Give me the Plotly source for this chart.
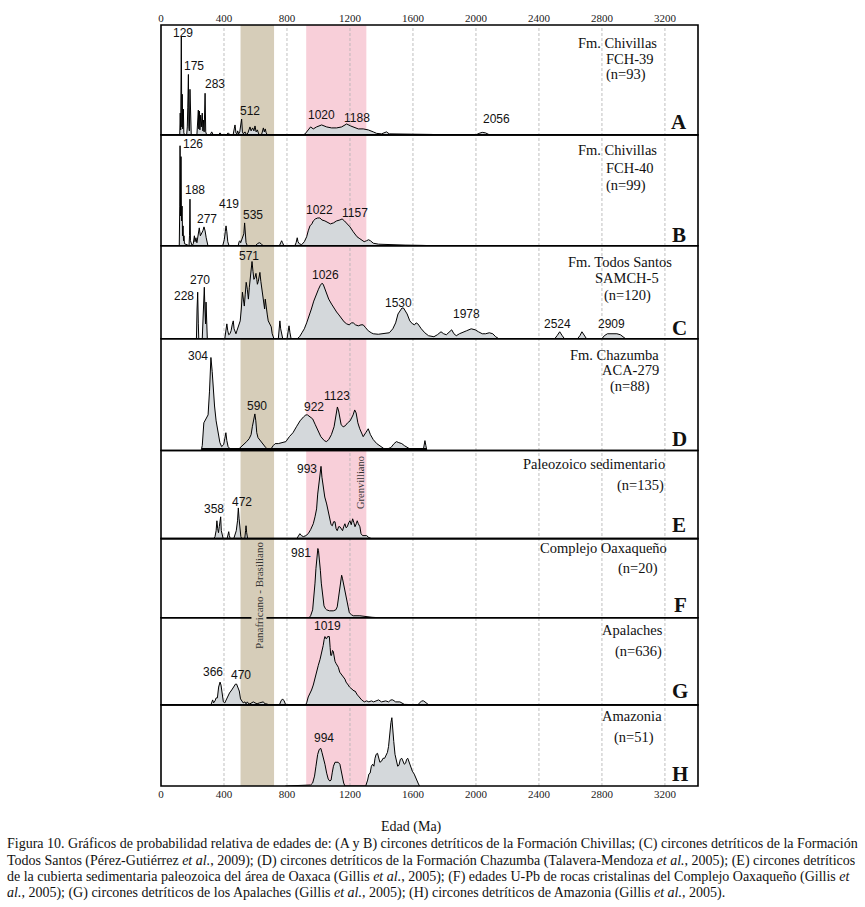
import plotly.graph_objects as go

# ---------------- DATA ----------------
# Relative probability curves: (age Ma, relative probability)
fch39 = [(100,0),(119,0),(122,22),(125,5),(129,99),(132,8),(135,41),(138,6),(142,26),(145,2),(150,0),
 (163,0),(167,8),(170,28),(174,61),(177,8),(180,4),(184,46),(188,4),(192,0),
 (228,0),(232,12),(237,25),(240,6),(244,24),(247,5),(252,20),(256,8),(262,22),(266,4),(270,15),(274,3),(280,42),(284,3),(290,0),
 (312,0),(322,3),(332,0),(365,0),(375,2),(385,0),(415,0),(427,2),(439,0),
 (458,0),(465,6),(470,10),(476,2),(482,1),(487,4),(493,1),(500,3),(505,8),(512,16),(517,3),(523,1),(533,3),(543,0),(552,2),
 (565,8),(572,4),(582,7),(590,4),(597,9),(604,3),(612,5),(620,1),(630,0),(640,1),(650,7),(656,3),(662,6),(668,2),(675,0),
 (905,0),(915,1),(935,5),(950,8),(967,6),(988,8),(1020,10),(1052,8),(1083,7),(1115,7),(1147,8),(1179,11),(1204,9),
 (1232,7),(1253,6),(1284,6),(1316,5),(1348,3),(1369,1.5),(1400,1),(1420,2.5),(1432,3),(1449,1),(1480,1),(1550,1),
 (1650,0.8),(1720,0.4),(1760,0),(2000,0),(2020,1.5),(2040,2.5),(2060,2),(2080,0.5),(2100,0)]

fch40 = [(100,0),(116,0),(119,40),(121,101),(124,30),(127,90),(130,25),(134,40),(137,10),(140,20),(143,5),(146,10),(149,2),
 (178,0),(181,10),(184,47),(187,5),(190,3),(198,0),
 (205,2),(212,10),(216,4),(222,8),(228,3),(236,12),(243,18),(250,10),(258,12),(266,15),(273,19),(280,15),(287,8),(292,2),(298,0),
 (392,0),(402,6),(408,14),(413,20),(418,14),(424,4),(432,0),
 (490,0),(496,4),(501,5),(506,3),(512,6),(520,8),(526,12),(531,23),(535,9),(540,3),(548,0),
 (600,0),(612,2),(624,3),(636,2),(648,0),(752,0),(760,3),(766,5),(772,3),(780,0),
 (850,0),(858,3),(865,8),(870,4),(878,2),(893,1),(910,4),(925,9),(935,15),(946,20),(958,22),(967,25),(980,27),(995,28),
 (1009,28),(1022,26),(1041,25),(1060,23),(1076,22),(1095,23),(1115,25),(1136,26),(1150,27),(1165,25),(1179,23),(1200,19),
 (1221,14),(1245,9),(1263,7),(1290,4),(1305,5),(1318,6),(1330,5),(1348,2.5),(1382,1.5),(1450,1),(1550,0.6),(1660,0.3),(1720,0)]

samch5 = [(210,0),(225,0),(229,30),(233,47),(237,15),(240,0),(262,0),(267,20),(272,40),(275,52),(279,30),(283,15),(286,37),(290,10),(294,0),
 (405,0),(412,8),(418,15),(424,8),(430,4),(438,5),(445,8),(452,14),(459,18),(464,10),(470,6),(476,5),(482,8),(490,12),(497,15),
 (503,18),(510,30),(517,47),(523,40),(529,33),(535,45),(541,57),(548,50),(555,40),(561,52),(567,60),(573,72),(578,78),(584,68),
 (590,60),(597,62),(603,66),(608,60),(612,55),(618,58),(624,63),(628,67),(634,58),(641,50),(647,40),(654,35),(658,30),(662,40),
 (668,30),(675,24),(681,18),(688,15),(694,14),(700,12),(706,5),(712,2),(717,0),
 (745,0),(750,8),(755,18),(760,10),(766,3),(773,0),(800,0),(806,6),(813,13),(819,6),(826,0),
 (865,0),(880,2),(895,6),(910,10),(925,16),(940,22),(955,30),(970,38),(985,45),(1000,50),(1012,54),(1022,56),(1030,55),
 (1040,50),(1052,45),(1065,40),(1083,35),(1100,30),(1115,27),(1130,24),(1147,20),(1163,17),(1179,15),(1195,14),(1210,16),
 (1221,16),(1235,14),(1253,13),(1270,14),(1284,14),(1300,11),(1316,8),(1335,6),(1348,5),(1380,4.5),(1410,5),(1432,5),
 (1450,6),(1472,10),(1490,16),(1505,25),(1517,28),(1530,31),(1540,31),(1552,28),(1563,25),(1580,18),(1597,15),(1610,14),
 (1620,16),(1631,15),(1642,12),(1653,10),(1675,6),(1699,3),(1733,2),(1755,4),(1778,7),(1795,5),(1812,4),(1830,7),(1846,9),
 (1860,5),(1875,3),(1895,5),(1914,6),(1940,8),(1970,10),(1995,9),(2016,7),(2040,5),(2061,5),(2085,6),(2107,5),(2125,2),(2145,0),
 (2500,0),(2515,3),(2532,7),(2548,3),(2562,0),(2645,0),(2660,3),(2673,7),(2688,3),(2702,0),
 (2800,0),(2815,3),(2835,5),(2855,5),(2876,5),(2895,5),(2917,4),(2935,2),(2950,0)]

aca279 = [(255,0),(262,5),(272,28),(283,32),(292,34),(299,36),(308,60),(317,94),(325,80),(333,55),(340,45),(350,30),(362,20),
 (374,8),(385,4),(398,6),(405,12),(412,18),(418,10),(426,4),(442,1),(470,0),(490,1),(510,4),(528,6),(544,9),(560,12),(572,16),
 (580,24),(588,33),(596,37),(602,30),(608,18),(616,13),(630,10),(646,7),(665,3),(685,0),(700,2),(713,5),(725,7),(745,7),
 (770,8),(793,9),(815,14),(838,18),(860,24),(883,30),(905,34),(920,36),(930,36),(945,34),(963,32),(980,26),(997,20),
 (1015,14),(1037,10),(1050,9),(1065,11),(1082,16),(1099,24),(1110,35),(1120,44),(1128,40),(1136,30),(1144,26),(1157,24),
 (1170,25),(1185,28),(1201,30),(1220,36),(1230,41),(1239,38),(1250,28),(1262,22),(1275,16),(1284,14),(1300,18),(1316,22),
 (1330,16),(1348,11),(1370,7),(1393,4),(1415,2),(1443,2),(1460,3),(1480,7),(1495,9),(1510,8),(1529,7),(1545,5),(1563,3),
 (1580,1),(1597,0),(1665,0),(1670,5),(1676,10),(1682,5),(1688,0)]

paleozoico = [(335,0),(343,2),(350,8),(355,18),(360,10),(365,6),(370,12),(375,18),(379,22),(383,8),(389,2),(395,0),
 (420,0),(426,4),(430,7),(434,3),(440,0),(462,0),(470,4),(478,8),(486,18),(491,31),(496,20),(501,8),(507,2),(512,0),
 (532,0),(537,8),(540,13),(544,6),(550,0),
 (862,0),(872,3),(882,5),(892,3),(904,2),(920,3),(935,5),(950,9),(967,15),(978,22),(988,30),(995,45),(1005,60),(1012,70),
 (1016,73),(1022,62),(1030,50),(1040,42),(1052,35),(1062,27),(1073,20),(1080,14),(1088,13),(1096,17),(1105,17),(1112,10),
 (1119,8),(1128,12),(1136,12),(1145,9),(1153,8),(1160,12),(1168,15),(1175,11),(1183,12),(1192,16),(1200,18),(1208,14),
 (1217,20),(1225,16),(1232,12),(1240,15),(1246,18),(1253,15),(1263,12),(1270,5),(1280,3),(1306,3),(1320,1),(1337,0)]

oaxaqueno = [(940,0),(950,2),(963,8),(970,18),(978,35),(984,50),(990,62),(996,70),(1000,68),(1005,62),(1012,48),(1018,35),
 (1025,22),(1035,12),(1045,9),(1052,8),(1070,7),(1094,7),(1110,8),(1119,11),(1127,20),(1136,32),(1142,40),(1147,43),
 (1152,40),(1158,35),(1165,28),(1172,22),(1178,18),(1183,15),(1190,8),(1196,5),(1210,3),(1221,2),(1263,2),(1306,1),
 (1340,0.5),(1390,0)]

apalaches = [(317,0),(322,4),(328,5),(334,2),(343,4),(350,7),(358,7),(366,18),(375,23),(381,20),(385,14),(390,5),(396,3),
 (405,2),(421,8),(435,12),(449,15),(462,18),(473,21),(480,21),(488,18),(497,14),(505,6),(512,4),(522,2),(533,3),(540,1),
 (548,3),(557,1),(565,1),(575,2),(586,3),(597,2),(610,1),(625,2),(640,3),(650,3),(660,1),(671,1),(685,0),
 (752,0),(762,4),(772,6),(782,4),(792,0),
 (918,0),(925,2),(935,8),(945,11),(956,15),(967,20),(978,28),(988,34),(999,40),(1010,46),(1020,52),(1030,60),(1036,66),
 (1041,69),(1047,67),(1052,67),(1058,69),(1064,69),(1069,69),(1074,58),(1078,50),(1083,50),(1089,55),(1094,54),(1100,47),
 (1105,44),(1111,42),(1118,40),(1126,38),(1135,33),(1140,32),(1147,30),(1155,29),(1161,27),(1168,26),(1175,23),(1182,22),
 (1189,20),(1197,18),(1204,17),(1210,16),(1220,15),(1226,14),(1232,14),(1240,11),(1247,10),(1253,9),(1262,7),(1274,5),
 (1291,3),(1306,4),(1320,3),(1336,4),(1350,3),(1365,4),(1382,5),(1400,3),(1416,4),(1427,4),(1445,3),(1460,5),(1472,5),
 (1490,3),(1517,3),(1530,1.5),(1545,0.5),(1630,0),(1645,2),(1655,4),(1668,4),(1682,2),(1700,0)]

amazonia = [(790,0),(850,0.5),(900,0.8),(950,1),(963,3),(975,10),(984,20),(995,32),(1005,37),(1015,38),(1022,34),(1032,28),
 (1041,22),(1052,13),(1062,7),(1072,5),(1080,6),(1088,14),(1095,20),(1105,24),(1115,24),(1125,24),(1136,22),(1145,14),
 (1151,8),(1160,3),(1168,0),
 (1300,0),(1312,6),(1320,12),(1328,13),(1336,20),(1344,22),(1352,20),(1359,28),(1366,32),(1375,33),(1383,26),(1390,24),
 (1400,25),(1410,28),(1420,28),(1430,32),(1438,34),(1445,40),(1452,55),(1460,64),(1466,69),(1472,60),(1478,45),(1486,32),
 (1495,24),(1503,20),(1511,21),(1520,27),(1529,28),(1537,25),(1545,22),(1553,23),(1560,27),(1567,28),(1575,24),(1585,18),
 (1596,15),(1608,12),(1617,8),(1626,5),(1635,2),(1642,0)]

series = [fch39, fch40, samch5, aca279, paleozoico, oaxaqueno, apalaches, amazonia]

# Peak age labels per panel
peaks_text = [
    ["129", "175", "283", "512", "1020", "1188", "2056"],
    ["126", "188", "277", "419", "535", "1022", "1157"],
    ["228", "270", "571", "1026", "1530", "1978", "2524", "2909"],
    ["304", "590", "922", "1123"],
    ["358", "472", "993"],
    ["981"],
    ["366", "470", "1019"],
    ["994"],
]

panel_titles = [
    ["Fm. Chivillas", "FCH-39", "(n=93)"],
    ["Fm. Chivillas", "FCH-40", "(n=99)"],
    ["Fm. Todos Santos", "SAMCH-5", "(n=120)"],
    ["Fm. Chazumba", "ACA-279", "(n=88)"],
    ["Paleozoico sedimentario", "(n=135)"],
    ["Complejo Oaxaqueño", "(n=20)"],
    ["Apalaches", "(n=636)"],
    ["Amazonia", "(n=51)"],
]
panel_letters = ["A", "B", "C", "D", "E", "F", "G", "H"]

tick_values = [0, 400, 800, 1200, 1600, 2000, 2400, 2800, 3200]
panafricano_band = (505, 718)
grenvilliano_band = (922, 1304)
chazumba_base = (260, 1688)

caption_lines = [
    "Figura 10. Gráficos de probabilidad relativa de edades de: (A y B) circones detríticos de la Formación Chivillas; (C) circones detríticos de la Formación",
    "Todos Santos (Pérez-Gutiérrez <i>et al.</i>, 2009); (D) circones detríticos de la Formación Chazumba (Talavera-Mendoza <i>et al.</i>, 2005); (E) circones detríticos",
    "de la cubierta sedimentaria paleozoica del área de Oaxaca (Gillis <i>et al.</i>, 2005); (F) edades U-Pb de rocas cristalinas del Complejo Oaxaqueño (Gillis <i>et</i>",
    "<i>al.</i>, 2005); (G) circones detríticos de los Apalaches (Gillis <i>et al.</i>, 2005); (H) circones detríticos de Amazonia (Gillis <i>et al.</i>, 2005).",
]

# ---------------- LAYOUT (pixel geometry) ----------------
W, H = 865, 907
PL, PR, PT, PB = 161, 698, 17, 786
edges = [17, 128, 240, 334, 447, 536, 616, 704, 786]
XMAX = 3410

def pxx(x):
    return (x - PL) / (PR - PL)

def pxy(y):
    return (PB - y) / (PB - PT)

peak_pos = [
    [(142, 25), (212, 58), (343, 77), (565, 104), (1022, 108), (1247, 111), (2128, 112)],
    [(206, 137), (214, 184), (295, 213), (434, 198), (583, 209), (1008, 204), (1233, 207)],
    [(145, 291), (247, 275), (560, 250), (1047, 270), (1506, 298), (1941, 309), (2518, 319), (2862, 319)],
    [(236, 351), (612, 402), (969, 403), (1118, 392)],
    [(335, 506), (513, 499), (926, 466)],
    [(892, 551)],
    [(330, 671), (507, 674), (1056, 624)],
    [(1033, 737)],
]
title_pos = [
    [(617, 35), (630, 51), (626, 67)],
    [(617, 143), (630, 161), (626, 179)],
    [(620, 256), (627, 273), (627, 290)],
    [(614, 350), (630, 366), (630, 382)],
    [(594, 461), (640, 482)],
    [(603, 545), (638, 566)],
    [(632, 628), (638, 650)],
    [(632, 715), (634, 737)],
]
letter_pos = [(679, 115), (679, 229), (679, 323), (679, 435), (679, 522), (680, 603), (680, 690), (680, 774)]

SERIF = "Liberation Serif, Times New Roman, serif"
SANS = "Liberation Sans, Arial, sans-serif"

fig = go.Figure()
layout_axes = {}
for i, data in enumerate(series):
    top, bot = edges[i], edges[i + 1]
    yname = "y" if i == 0 else f"y{i+1}"
    xname = "x2" if i == 0 else "x"
    ages = [p[0] for p in data]
    probs = [p[1] for p in data]
    fig.add_trace(go.Scatter(x=ages, y=probs, mode="lines",
                             line=dict(color="black", width=1),
                             fill="tozeroy", fillcolor="#d4d8db",
                             xaxis=xname, yaxis=yname, hoverinfo="skip"))
    key = "yaxis" if i == 0 else f"yaxis{i+1}"
    layout_axes[key] = dict(domain=[pxy(bot), pxy(top)], range=[0, bot - top],
                            visible=False, anchor=xname, fixedrange=True)

tickfont = dict(family=SERIF, size=11, color="#222")
fig.update_layout(
    width=W, height=H, autosize=False,
    margin=dict(l=PL, r=W - PR, t=PT, b=H - PB, pad=0),
    paper_bgcolor="white", plot_bgcolor="white", showlegend=False,
    xaxis=dict(domain=[0, 1], range=[0, XMAX], anchor="y8", side="bottom",
               tickvals=tick_values, ticks="", showgrid=False, zeroline=False,
               showline=False, tickfont=tickfont),
    xaxis2=dict(domain=[0, 1], range=[0, XMAX], anchor="y", side="top", matches="x",
                tickvals=tick_values, ticks="", showgrid=False, zeroline=False,
                showline=False, tickfont=tickfont),
    **layout_axes,
)

shapes = []
shapes.append(dict(type="rect", xref="x", yref="paper", x0=panafricano_band[0], x1=panafricano_band[1],
                   y0=0, y1=1, fillcolor="#d6cdb9", line=dict(width=0), layer="below"))
shapes.append(dict(type="rect", xref="x", yref="paper", x0=grenvilliano_band[0], x1=grenvilliano_band[1],
                   y0=0, y1=1, fillcolor="#f8cfd9", line=dict(width=0), layer="below"))
for v in tick_values[1:]:
    shapes.append(dict(type="line", xref="x", yref="paper", x0=v, x1=v, y0=0, y1=1,
                       line=dict(color="#b0b0b0", width=0.8, dash="3px,2px"), layer="below"))
for i in range(8):
    shapes.append(dict(type="rect", xref="paper", yref="paper", x0=0, x1=1,
                       y0=pxy(edges[i + 1]), y1=pxy(edges[i]),
                       line=dict(color="black", width=1.6), layer="above"))
shapes.append(dict(type="line", xref="x", yref="y4", x0=chazumba_base[0], x1=chazumba_base[1],
                   y0=1.3, y1=1.3, line=dict(color="black", width=2.5), layer="above"))

ann = []
for i in range(8):
    for txt, (a, yp) in zip(peaks_text[i], peak_pos[i]):
        ann.append(dict(text=txt, x=a, y=pxy(yp), xref="x", yref="paper", showarrow=False,
                        xanchor="center", yanchor="middle",
                        font=dict(family=SANS, size=12, color="#111")))
    for txt, (xp, yp) in zip(panel_titles[i], title_pos[i]):
        ann.append(dict(text=txt, x=pxx(xp), y=pxy(yp), xref="paper", yref="paper", showarrow=False,
                        xanchor="center", yanchor="middle",
                        font=dict(family=SERIF, size=14.5, color="#111")))
    xp, yp = letter_pos[i]
    ann.append(dict(text=f"<b>{panel_letters[i]}</b>", x=pxx(xp), y=pxy(yp), xref="paper", yref="paper",
                    showarrow=False, xanchor="center", yanchor="middle",
                    font=dict(family=SERIF, size=21, color="#111")))

ann.append(dict(text="Panafricano - Brasiliano", x=622, y=pxy(593), xref="x", yref="paper",
                showarrow=False, textangle=-90, xanchor="center", yanchor="middle",
                bgcolor="#d6cdb9", borderpad=1,
                font=dict(family=SERIF, size=11, color="#333")))
ann.append(dict(text="Grenvilliano", x=1263, y=pxy(479), xref="x", yref="paper",
                showarrow=False, textangle=-90, xanchor="center", yanchor="middle",
                font=dict(family=SERIF, size=10.5, color="#333")))
ann.append(dict(text="Edad (Ma)", x=pxx(411), y=pxy(827), xref="paper", yref="paper",
                showarrow=False, xanchor="center", yanchor="middle",
                font=dict(family=SERIF, size=14, color="#111")))
cap_y = [845, 861.5, 878, 894.5]
for txt, yp in zip(caption_lines, cap_y):
    ann.append(dict(text=txt, x=pxx(5), y=pxy(yp), xref="paper", yref="paper",
                    showarrow=False, xanchor="left", yanchor="middle",
                    font=dict(family=SERIF, size=14, color="#111")))

fig.update_layout(shapes=shapes, annotations=ann)
fig.write_html("out.html", config={"displayModeBar": False},
               post_script="document.body.style.margin='0px';")
